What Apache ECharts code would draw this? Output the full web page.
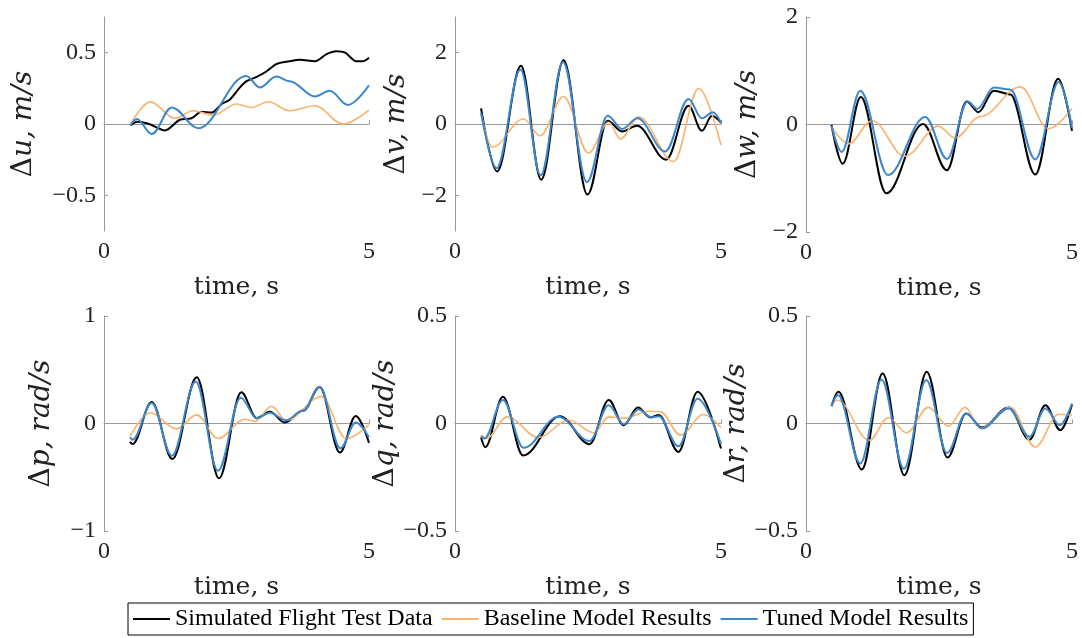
<!DOCTYPE html>
<html>
<head>
<meta charset="utf-8">
<script src="https://cdn.jsdelivr.net/npm/echarts@6/dist/echarts.min.js"></script>
<style>html,body{margin:0;padding:0;background:#fff;}#c{width:1082px;height:638px;}</style>
</head>
<body>
<div id="c"></div>
<script>
// ---------- data (time s, value) ----------
const seriesNames = ['Simulated Flight Test Data', 'Baseline Model Results', 'Tuned Model Results'];
const timeTicks = [0, 5];

const uSim = [[0.5,-0.01],[0.63,0.015],[0.85,0.0],[1.15,-0.045],[1.43,0.03],[1.65,0.04],[1.84,0.085],[2.03,0.08],[2.22,0.14],[2.37,0.17],[2.55,0.25],[2.69,0.30],[2.88,0.33],[3.07,0.37],[3.25,0.42],[3.5,0.44],[3.69,0.45],[3.98,0.44],[4.2,0.49],[4.38,0.51],[4.55,0.50],[4.76,0.44],[4.88,0.44],[5.0,0.465]];
const uBase = [[0.5,0],[0.87,0.155],[1.34,0.04],[1.68,0.093],[2.06,0.063],[2.5,0.14],[2.78,0.116],[3.10,0.156],[3.5,0.093],[3.98,0.128],[4.51,0.0],[5.0,0.098]];
const uTuned = [[0.5,-0.01],[0.62,0.035],[0.90,-0.07],[1.28,0.116],[1.78,-0.03],[2.68,0.337],[2.94,0.256],[3.25,0.333],[3.5,0.30],[3.98,0.193],[4.26,0.233],[4.6,0.133],[5.0,0.272]];
const uTicks = [-0.5, 0, 0.5];

const vSim = [[0.49,0.44],[0.79,-1.33],[1.24,1.63],[1.62,-1.56],[2.04,1.79],[2.49,-1.98],[2.87,0.09],[3.14,-0.21],[3.42,-0.05],[3.97,-1.0],[4.39,0.51],[4.64,-0.19],[4.83,0.23],[5.0,0.03]];
const vBase = [[0.49,0.28],[0.70,-0.65],[1.29,0.14],[1.60,-0.33],[2.04,0.77],[2.51,-0.81],[2.89,0.05],[3.11,-0.42],[3.45,0.2],[4.11,-1.05],[4.58,1.0],[5.0,-0.59]];
const vTuned = [[0.49,0.31],[0.78,-1.24],[1.23,1.53],[1.61,-1.44],[2.03,1.74],[2.48,-1.63],[2.87,0.23],[3.14,-0.14],[3.43,0.16],[3.95,-0.77],[4.39,0.70],[4.64,0.16],[4.85,0.33],[5.0,0.03]];
const vTicks = [-2, 0, 2];

const wSim = [[0.48,-0.01],[0.69,-0.73],[1.03,0.51],[1.51,-1.28],[2.20,0.01],[2.65,-0.85],[3.02,0.43],[3.24,0.23],[3.53,0.63],[3.84,0.56],[4.31,-0.93],[4.74,0.85],[5.0,-0.12]];
const wBase = [[0.48,-0.05],[0.80,-0.36],[1.24,0.07],[1.86,-0.59],[2.49,-0.03],[2.80,-0.25],[3.28,0.15],[4.03,0.70],[4.56,-0.08],[5.0,0.30]];
const wTuned = [[0.48,-0.03],[0.67,-0.51],[1.02,0.63],[1.54,-0.94],[2.24,0.14],[2.65,-0.64],[3.04,0.43],[3.22,0.29],[3.53,0.69],[3.84,0.65],[4.31,-0.65],[4.75,0.79],[5.0,-0.06]];
const wTicks = [-2, 0, 2];

const pSim = [[0.49,-0.17],[0.54,-0.19],[0.90,0.20],[1.29,-0.33],[1.75,0.43],[2.17,-0.51],[2.59,0.29],[2.88,0.05],[3.13,0.11],[3.41,0.01],[3.76,0.12],[4.07,0.34],[4.45,-0.27],[4.75,0.07],[5.0,-0.18]];
const pBase = [[0.49,-0.12],[0.87,0.10],[1.37,-0.05],[1.75,0.08],[2.15,-0.14],[2.66,0.04],[2.85,0.02],[3.16,0.16],[3.44,0.03],[4.10,0.25],[4.57,-0.14],[5.0,-0.01]];
const pTuned = [[0.49,-0.13],[0.54,-0.15],[0.90,0.19],[1.28,-0.30],[1.73,0.39],[2.15,-0.44],[2.58,0.24],[2.88,0.05],[3.13,0.10],[3.43,0.03],[3.76,0.12],[4.07,0.34],[4.46,-0.23],[4.75,0.01],[5.0,-0.13]];
const pTicks = [-1, 0, 1];

const qSim = [[0.49,-0.065],[0.57,-0.11],[0.90,0.124],[1.28,-0.149],[1.97,0.034],[2.53,-0.096],[2.89,0.109],[3.17,-0.008],[3.44,0.075],[3.67,0.028],[3.83,0.04],[4.20,-0.132],[4.56,0.148],[5.0,-0.116]];
const qBase = [[0.49,-0.054],[0.60,-0.067],[0.98,0.031],[1.57,-0.065],[2.14,0.016],[2.61,-0.043],[2.89,0.031],[3.17,0.025],[3.64,0.057],[3.86,0.054],[4.24,-0.054],[4.67,0.042],[5.0,-0.019]];
const qTuned = [[0.49,-0.059],[0.55,-0.07],[0.90,0.109],[1.29,-0.113],[1.94,0.031],[2.53,-0.081],[2.89,0.085],[3.17,-0.003],[3.45,0.065],[3.70,0.028],[3.83,0.034],[4.20,-0.106],[4.56,0.115],[5.0,-0.096]];
const qTicks = [-0.5, 0, 0.5];

const rSim = [[0.48,0.081],[0.61,0.148],[1.05,-0.214],[1.44,0.233],[1.85,-0.241],[2.27,0.241],[2.66,-0.158],[3.01,0.047],[3.31,-0.019],[3.81,0.075],[4.20,-0.075],[4.50,0.085],[4.78,-0.031],[5.0,0.089]];
const rBase = [[0.48,0.085],[0.59,0.109],[1.19,-0.078],[1.55,0.028],[1.89,-0.043],[2.30,0.075],[2.68,-0.012],[2.99,0.075],[3.28,-0.023],[3.84,0.075],[4.31,-0.109],[4.75,0.043],[5.0,0.039]];
const rTuned = [[0.48,0.081],[0.60,0.132],[1.02,-0.186],[1.42,0.205],[1.84,-0.21],[2.26,0.202],[2.65,-0.137],[3.01,0.047],[3.31,-0.023],[3.81,0.07],[4.20,-0.062],[4.50,0.07],[4.77,-0.008],[5.0,0.093]];
const rTicks = [-0.5, 0, 0.5];

const yLabels = ['u, m/s', 'v, m/s', 'w, m/s', 'p, rad/s', 'q, rad/s', 'r, rad/s'];
const yRanges = [[-0.75, 0.75], [-3, 3], [-2, 2], [-1, 1], [-0.5, 0.5], [-0.5, 0.5]];

// ---------- layout / style ----------
const panelData = [
  [uSim, uBase, uTuned, uTicks],
  [vSim, vBase, vTuned, vTicks],
  [wSim, wBase, wTuned, wTicks],
  [pSim, pBase, pTuned, pTicks],
  [qSim, qBase, qTuned, qTicks],
  [rSim, rBase, rTuned, rTicks]
];
const layout = [
  {left: 104, top: 17, width: 265, height: 214, gap: 66},
  {left: 455, top: 17, width: 266, height: 214, gap: 44},
  {left: 806, top: 17, width: 266, height: 215, gap: 44},
  {left: 104, top: 316, width: 265, height: 215, gap: 48},
  {left: 455, top: 316, width: 266, height: 215, gap: 52},
  {left: 806, top: 316, width: 266, height: 215, gap: 50}
];
const colors = ['#000000', '#FBB26C', '#3B86CC'];
const widths = [2, 1.6, 2];
const axisColor = '#9a9a9a';
const textColor = '#222';
const tickFont = 'Liberation Serif';
const nameFont = 'DejaVu Serif';

function fmt(v) {
  return v < 0 ? '\u2212' + String(Math.abs(v)) : String(v);
}

const grids = [], xAxes = [], yAxes = [], series = [];
panelData.forEach((pd, i) => {
  const L = layout[i];
  grids.push({left: L.left, top: L.top, width: L.width, height: L.height, containLabel: false});
  xAxes.push({
    type: 'value', gridIndex: i, min: 0, max: 5,
    name: 'time, s', nameLocation: 'middle', nameGap: 44,
    nameTextStyle: {fontFamily: nameFont, fontSize: 25, color: textColor},
    axisLine: {show: true, lineStyle: {color: axisColor, width: 1}},
    axisTick: {show: true, inside: true, length: 4, lineStyle: {color: axisColor}, customValues: timeTicks},
    axisLabel: {show: true, margin: 9, fontFamily: tickFont, fontSize: 24, color: textColor,
      customValues: timeTicks, formatter: fmt},
    splitLine: {show: false}
  });
  yAxes.push({
    type: 'value', gridIndex: i, min: yRanges[i][0], max: yRanges[i][1],
    name: '{d|\u0394}{i|' + yLabels[i] + '}', nameLocation: 'middle', nameGap: L.gap, nameRotate: 90,
    nameTextStyle: {
      fontFamily: nameFont, fontSize: 28, color: textColor,
      rich: {
        d: {fontFamily: nameFont, fontSize: 28, color: textColor},
        i: {fontFamily: nameFont, fontSize: 28, fontStyle: 'italic', color: textColor}
      }
    },
    axisLine: {show: true, lineStyle: {color: axisColor, width: 1}},
    axisTick: {show: true, inside: true, length: 4, lineStyle: {color: axisColor}, customValues: pd[3]},
    axisLabel: {show: true, margin: 8, fontFamily: tickFont, fontSize: 24, color: textColor,
      customValues: pd[3], formatter: fmt},
    splitLine: {show: false}
  });
  for (let k = 0; k < 3; k++) {
    const regular = (i === 0 && k === 0);
    series.push({
      name: seriesNames[k], type: 'line', xAxisIndex: i, yAxisIndex: i,
      data: pd[k], showSymbol: false, symbol: 'none',
      smooth: regular ? 0.3 : 0.36, smoothMonotone: regular ? null : 'x',
      color: colors[k],
      lineStyle: {color: colors[k], width: widths[k]},
      itemStyle: {color: colors[k]},
      z: 2 + k, animation: false
    });
  }
});

const chart = echarts.init(document.getElementById('c'), null, {renderer: 'canvas'});
chart.setOption({
  backgroundColor: '#fff',
  animation: false,
  color: colors,
  grid: grids, xAxis: xAxes, yAxis: yAxes, series: series,
  legend: {
    data: seriesNames, left: 128, top: 603, orient: 'horizontal',
    icon: 'rect', itemWidth: 37, itemHeight: 2, itemGap: 9,
    padding: [4, 5, 4, 5],
    borderColor: '#000', borderWidth: 1, backgroundColor: '#fff',
    textStyle: {fontFamily: 'Liberation Serif', fontSize: 24, color: '#000', lineHeight: 24},
    selectedMode: false
  }
});
</script>
</body>
</html>
